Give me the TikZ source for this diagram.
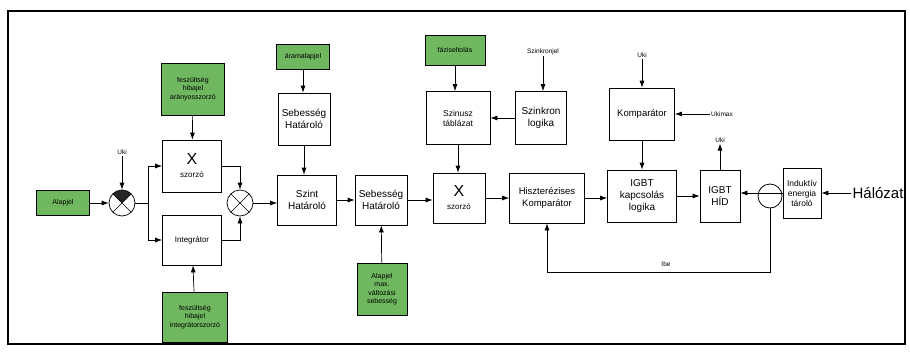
\documentclass[tikz,border=0pt]{standalone}
\usepackage{fontspec}
\setmainfont{Liberation Sans}
\usetikzlibrary{arrows.meta,calc}
\definecolor{grnfill}{RGB}{112,184,96}
\begin{document}
\begin{tikzpicture}[x=1pt,y=-1pt,
  every node/.style={inner sep=1pt},
  blk/.style={draw, line width=0.7pt, fill=white, align=center,
    font=\fontsize{10}{12}\selectfont},
  grnbox/.style={draw, line width=0.8pt, fill=grnfill, align=center,
    font=\fontsize{7}{8.5}\selectfont},
  lbl/.style={font=\fontsize{6.5}{8}\selectfont},
  arr/.style={-{Latex[length=7pt,width=5pt]}, line width=0.7pt},
  ln/.style={line width=0.7pt},
  sumpt/.style={circle, draw, line width=0.7pt, minimum size=26pt, inner sep=0pt,
    path picture={
      \draw[line width=0.6pt] (path picture bounding box.north west) -- (path picture bounding box.south east);
      \draw[line width=0.6pt] (path picture bounding box.north east) -- (path picture bounding box.south west);}},
  negsum/.style={circle, draw, line width=0.7pt, minimum size=26pt, inner sep=0pt,
    path picture={
      \fill[black!85] (path picture bounding box.center) -- (path picture bounding box.north west) -- (path picture bounding box.north east) -- cycle;
      \draw[line width=0.6pt] (path picture bounding box.north west) -- (path picture bounding box.south east);
      \draw[line width=0.6pt] (path picture bounding box.north east) -- (path picture bounding box.south west);}},
]
\useasboundingbox (0,0) rectangle (910,354);
% outer frame
\draw[line width=1.2pt] (8,11) rectangle (905,344);

% ---- nodes ----
\node[grnbox, minimum width=53pt, minimum height=25pt] (alapjel) at (63,203) {Alapjel};
\node[negsum] (s1) at (122,203) {};
\node[lbl] (uki1) at (122,152) {Uki};
\node[blk, minimum width=59pt, minimum height=52pt] (mul1) at (192,166)
  {{\fontsize{16}{16}\selectfont X}\\[1pt]{\fontsize{8}{9}\selectfont szorzó}};
\node[blk, minimum width=59pt, minimum height=50pt, font=\fontsize{8}{9}\selectfont] (integ) at (192,240) {Integrátor};
\node[grnbox, minimum width=63pt, minimum height=52pt] (garany) at (193,89)
  {feszültség\\hibajel\\arányosszorzó};
\node[grnbox, minimum width=65pt, minimum height=50pt] (ginteg) at (195,317)
  {feszültség\\hibajel\\integrátorszorzó};
\node[sumpt] (s2) at (240,203) {};
\node[blk, minimum width=59pt, minimum height=50pt] (szint) at (307,200) {Szint\\Határoló};
\node[grnbox, minimum width=53pt, minimum height=25pt] (garam) at (303,57) {áramalapjel};
\node[blk, minimum width=52pt, minimum height=52pt] (seb1) at (304,119) {Sebesség\\Határoló};
\node[blk, minimum width=52pt, minimum height=50pt] (seb2) at (381,200) {Sebesség\\Határoló};
\node[grnbox, minimum width=50pt, minimum height=52pt] (gmax) at (382,289)
  {Alapjel\\max.\\változási\\sebesség};
\node[blk, minimum width=52pt, minimum height=50pt] (mul2) at (459,198)
  {{\fontsize{16}{16}\selectfont X}\\[1pt]{\fontsize{8}{9}\selectfont szorzó}};
\node[grnbox, minimum width=60pt, minimum height=30pt] (gfazis) at (455,50) {fáziseltolás};
\node[blk, minimum width=64pt, minimum height=53pt, font=\fontsize{8.5}{10}\selectfont] (szinusz) at (458,118) {Szinusz\\táblázat};
\node[blk, minimum width=51pt, minimum height=53pt] (szinkron) at (541,118) {Szinkron\\logika};
\node[lbl] (szjel) at (543,52) {Szinkronjel};
\node[blk, minimum width=75pt, minimum height=50pt, font=\fontsize{9.5}{11.5}\selectfont] (hiszt) at (547,198) {Hiszterézises\\Komparátor};
\node[blk, minimum width=65pt, minimum height=52pt, font=\fontsize{9.5}{11.5}\selectfont] (komp) at (642,114) {Komparátor};
\node[lbl] (uki2) at (642,55) {Uki};
\node[lbl] (ukimax) at (722,114) {Ukimax};
\node[blk, minimum width=69pt, minimum height=52pt] (igbtk) at (642,196) {IGBT\\kapcsolás\\logika};
\node[blk, minimum width=40pt, minimum height=52pt] (hid) at (720,196) {IGBT\\HÍD};
\node[lbl] (uki3) at (720,140) {Uki};
\node[circle, draw, line width=0.8pt, minimum size=24pt, inner sep=0pt] (sens) at (770,196) {};
\node[blk, minimum width=38pt, minimum height=50pt, inner sep=0pt, font=\fontsize{8.5}{10}\selectfont] (ind) at (802,193) {Induktív\\energia\\tároló};
\node[font=\fontsize{15}{17}\selectfont] (halo) at (878,193) {Hálózat};
\node[lbl] (ibe) at (666,264) {Ibe};
\coordinate (fork) at (148,203);
\coordinate (fbk) at (770,272);

% ---- connectors ----
\draw[arr] (alapjel) -- (s1);
\draw[arr] (uki1) -- (s1);
\draw[ln] (s1) -- (fork);
\draw[arr] (fork) |- (mul1.west);
\draw[arr] (fork) |- (integ.west);
\draw[arr] (garany) -- (mul1);
\draw[arr] (ginteg) -- (integ);
\draw[arr] (mul1.east) -| (s2.north);
\draw[arr] (integ.east) -| (s2.south);
\draw[arr] (s2.east) -- (s2.east -| szint.west);
\draw[arr] (garam) -- (garam |- seb1.north);
\draw[arr] (seb1) -- (seb1 |- szint.north);
\draw[arr] (szint.east) -- (szint.east -| seb2.west);
\draw[arr] (gmax) -- (seb2);
\draw[arr] (seb2.east) -- (seb2.east -| mul2.west);
\draw[arr] (gfazis) -- (gfazis |- szinusz.north);
\draw[arr] (szinusz) -- (szinusz |- mul2.north);
\draw[arr] (szinkron) -- (szinusz);
\draw[arr] (szjel) -- (szjel |- szinkron.north);
\draw[arr] (mul2.east) -- (mul2.east -| hiszt.west);
\draw[arr] (hiszt.east) -- (hiszt.east -| igbtk.west);
\draw[arr] (uki2) -- (komp);
\draw[arr] (ukimax) -- (komp);
\draw[arr] (komp) -- (igbtk);
\draw[arr] (igbtk) -- (hid);
\draw[arr] (hid) -- (uki3);
\draw[arr] (ind.west) -- (ind.west -| hid.east);
\draw[arr] (halo) -- (ind);
\draw[arr] (sens.south) -- (fbk) -| (hiszt.south);
\end{tikzpicture}
\end{document}
